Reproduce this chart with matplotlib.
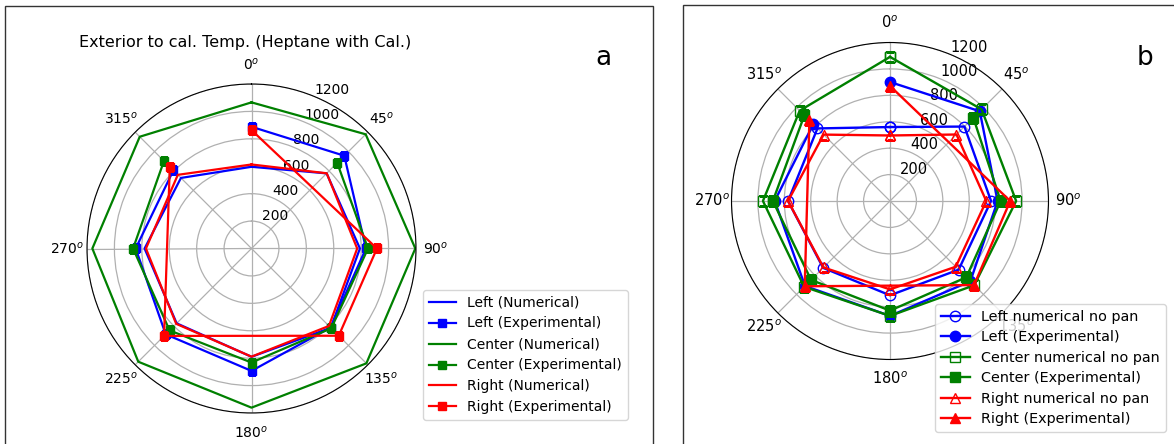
import numpy as np
import matplotlib
matplotlib.use("Agg")
import matplotlib.pyplot as plt
from matplotlib.patches import Rectangle

# angles in degrees (0 = north, clockwise)
angles = [0, 45, 90, 135, 180, 225, 270, 315]
center_exp_angles = [45, 90, 135, 180, 225, 270, 315]
right_exp_angles = [0, 90, 135, 225, 315]

# panel a: heptane with calorimeter
a_left_num = [596, 775, 791, 818, 790, 772, 780, 728]
a_left_exp = [888, 957, 835, 815, 893, 885, 845, 806]
a_center_num = [1066, 1178, 1195, 1185, 1161, 1168, 1161, 1153]
a_center_exp = [884, 850, 823, 832, 845, 864, 903]
a_right_num = [613, 776, 771, 799, 789, 777, 770, 760]
a_right_exp = [864, 915, 900, 902, 843]

# panel b: no pan
b_left_num = [560, 797, 765, 735, 714, 716, 772, 777]
b_left_exp = [901, 961, 815, 860, 870, 910, 873, 822]
b_center_num = [1091, 981, 955, 902, 870, 919, 962, 967]
b_center_exp = [892, 838, 817, 830, 845, 887, 917]
b_right_num = [496, 712, 729, 704, 669, 712, 772, 711]
b_right_exp = [871, 910, 900, 913, 863]

rticks = [200, 400, 600, 800, 1000, 1200]
tick_labels = ['$%d^o$' % a for a in angles]


def rad(a):
    return np.deg2rad(a)


def closed(a, v):
    return rad(list(a) + [a[0]]), list(v) + [v[0]]


W, H = 1174, 444
fig = plt.figure(figsize=(W / 100, H / 100), dpi=100)

# panel frames
fig.patches.append(Rectangle((5 / W, -0.05), 648 / W, 1.05 - 6 / H, transform=fig.transFigure,
                             fill=False, edgecolor='#333333', linewidth=1))
fig.patches.append(Rectangle((683 / W, -0.05), 0.5, 1.05 - 5 / H, transform=fig.transFigure,
                             fill=False, edgecolor='#333333', linewidth=1))


def setup(ax, fs):
    ax.set_theta_zero_location('N')
    ax.set_theta_direction(-1)
    ax.set_ylim(0, 1200)
    ax.set_yticks(rticks)
    ax.set_thetagrids(angles, labels=tick_labels)
    ax.tick_params(labelsize=fs)
    ax.grid(True, color='#b0b0b0', linewidth=0.9)


# ---- panel a ----
ax1 = fig.add_axes([87 / W, 31 / H, 329 / W, 329 / H], projection='polar')
setup(ax1, 10)
ax1.plot(*closed(angles, a_left_num), 'b-', lw=1.6, label='Left (Numerical)')
ax1.plot(rad(angles), a_left_exp, 'bs-', lw=1.6, ms=6, label='Left (Experimental)')
ax1.plot(*closed(angles, a_center_num), 'g-', lw=1.6, label='Center (Numerical)')
ax1.plot(rad(center_exp_angles), a_center_exp, 'gs-', lw=1.6, ms=6, label='Center (Experimental)')
ax1.plot(*closed(angles, a_right_num), 'r-', lw=1.6, label='Right (Numerical)')
ax1.plot(rad(right_exp_angles), a_right_exp, 'rs-', lw=1.6, ms=6, label='Right (Experimental)')
ax1.legend(loc='upper left', bbox_to_anchor=(423 / W, 1 - 290 / H),
           bbox_transform=fig.transFigure, fontsize=10, borderaxespad=0)
fig.text(245 / W, 1 - 43 / H, 'Exterior to cal. Temp. (Heptane with Cal.)',
         ha='center', va='center', fontsize=11.5)
fig.text(603 / W, 1 - 58 / H, 'a', ha='center', va='center', fontsize=19)

# ---- panel b ----
ax2 = fig.add_axes([731.5 / W, 84.5 / H, 317 / W, 317 / H], projection='polar')
setup(ax2, 10.5)
ax2.plot(*closed(angles, b_left_num), 'bo-', mfc='none', lw=1.7, ms=7.5, label='Left numerical no pan')
ax2.plot(rad(angles), b_left_exp, 'bo-', lw=1.7, ms=7.5, label='Left (Experimental)')
ax2.plot(*closed(angles, b_center_num), 'gs-', mfc='none', lw=1.7, ms=7.5, label='Center numerical no pan')
ax2.plot(rad(center_exp_angles), b_center_exp, 'gs-', lw=1.7, ms=7.5, label='Center (Experimental)')
ax2.plot(*closed(angles, b_right_num), 'r^-', mfc='none', lw=1.7, ms=7.5, label='Right numerical no pan')
ax2.plot(rad(right_exp_angles), b_right_exp, 'r^-', lw=1.7, ms=7.5, label='Right (Experimental)')
ax2.legend(loc='upper left', bbox_to_anchor=(935 / W, 1 - 304 / H),
           bbox_transform=fig.transFigure, fontsize=10.4, borderaxespad=0,
           labelspacing=0.45)
fig.text(1145 / W, 1 - 58 / H, 'b', ha='center', va='center', fontsize=19)

fig.savefig('out.png', dpi=100)
